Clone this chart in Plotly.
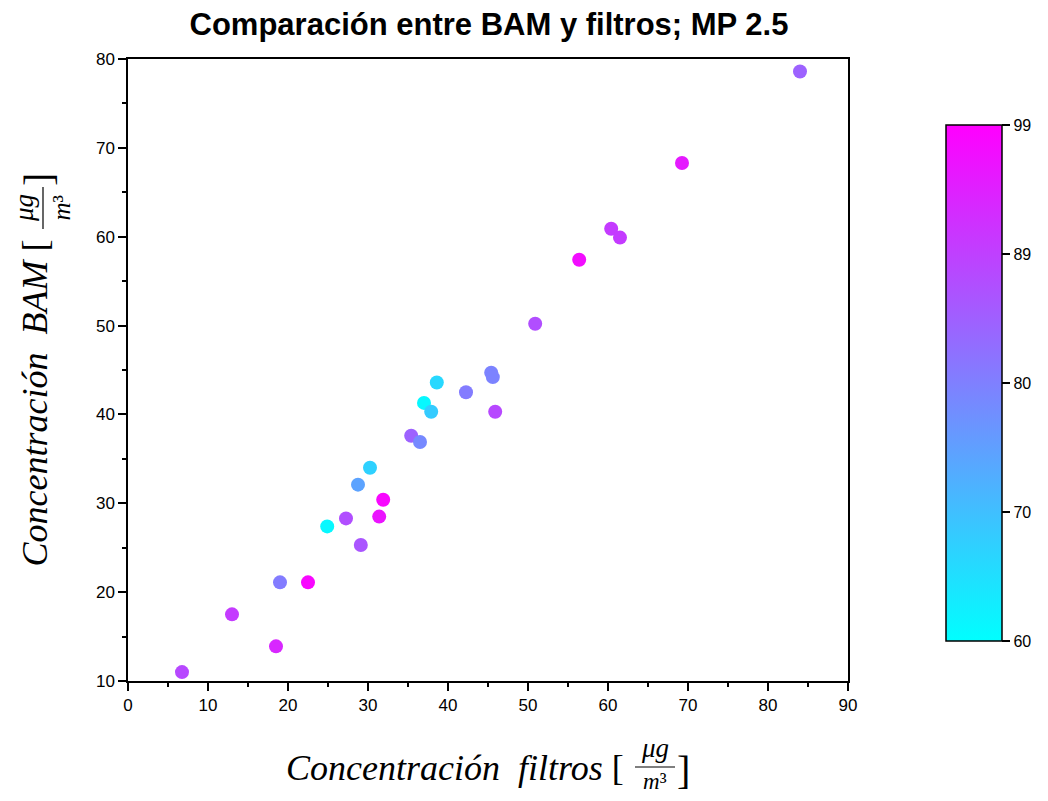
import plotly.graph_objects as go

# Data
filtros = [6.75, 13.0, 18.5, 19.0, 22.5, 24.9, 27.25, 29.1, 28.75, 30.25, 31.4, 31.9,
           35.4, 36.5, 37.0, 37.9, 38.6, 42.25, 45.4, 45.6, 45.9, 50.9, 56.4, 60.4,
           61.5, 69.25, 84.0]
bam = [11.0, 17.5, 13.9, 21.1, 21.1, 27.4, 28.3, 25.3, 32.1, 34.0, 28.5, 30.4,
       37.6, 36.9, 41.3, 40.3, 43.6, 42.5, 44.7, 44.2, 40.3, 50.2, 57.4, 60.9,
       59.9, 68.3, 78.6]
humedad = [88, 90, 93, 80, 98, 61, 87, 86, 74, 67, 96, 98,
           84, 78, 61, 68, 66, 80, 79, 79, 88, 87, 97, 90,
           90, 95, 84]

x_ticks = [0, 10, 20, 30, 40, 50, 60, 70, 80, 90]
y_ticks = [10, 20, 30, 40, 50, 60, 70, 80]
cb_tickvals = [60, 69.75, 79.5, 89.25, 99]
cb_ticktext = ["60", "70", "80", "89", "99"]

OFF = 8  # page body margin
W, H = 1048 - 2 * OFF, 801 - 2 * OFF
# plot area in screen pixels: x 128..848, y 59..681
SX0, SX1, SY0, SY1 = 128, 848, 59, 681
L, T = SX0 - OFF, SY0 - OFF
R = W - (SX1 - OFF)
B = H - (SY1 - OFF)
PW, PH = SX1 - SX0, SY1 - SY0


def px(xs):
    return (xs - SX0) / PW


def py(ys):
    return (SY1 - ys) / PH


fig = go.Figure()
fig.add_trace(go.Scatter(
    x=filtros, y=bam, mode="markers",
    marker=dict(
        size=14, color=humedad, cmin=60, cmax=99,
        colorscale=[[0, "rgb(0,255,255)"], [1, "rgb(255,0,255)"]],
        line=dict(width=0),
        colorbar=dict(
            x=px(946), xanchor="left", xpad=0, ypad=0,
            y=py(383), yanchor="middle",
            thickness=56, thicknessmode="pixels",
            len=516, lenmode="pixels",
            outlinewidth=1.5, outlinecolor="black",
            tickvals=cb_tickvals, ticktext=cb_ticktext,
            ticks="outside", ticklen=8, tickcolor="black", tickwidth=1.5,
            tickfont=dict(family="Liberation Sans", size=16, color="black"),
        ),
    ),
    showlegend=False,
    hoverinfo="x+y",
))

axis_common = dict(
    showline=True, linecolor="black", linewidth=1.5, mirror=True,
    ticks="outside", ticklen=8, tickwidth=1.5, tickcolor="black",
    showgrid=False, zeroline=False,
    tickfont=dict(family="Liberation Sans", size=17, color="black"),
)

fig.update_xaxes(range=[0, 90], tickvals=x_ticks,
                 minor=dict(dtick=5, tick0=0, ticks="outside", ticklen=4, tickcolor="black"),
                 **axis_common)
fig.update_yaxes(range=[10, 80], tickvals=y_ticks,
                 minor=dict(dtick=5, tick0=0, ticks="outside", ticklen=4, tickcolor="black"),
                 **axis_common)

serif = "Liberation Serif"
ann = []
# x-axis title
ann.append(dict(text="<i>Concentración  filtros</i> [", x=px(626), y=py(768),
                xanchor="right", yanchor="middle", font=dict(family=serif, size=36)))
ann.append(dict(text="<i>μg</i>", x=px(655), y=py(765), xanchor="center", yanchor="bottom",
                font=dict(family=serif, size=27)))
ann.append(dict(text="<i>m</i>³", x=px(655), y=py(767), xanchor="center", yanchor="top",
                font=dict(family=serif, size=23)))
ann.append(dict(text="]", x=px(683), y=py(770), xanchor="center", yanchor="middle",
                font=dict(family=serif, size=40)))
# y-axis title
ann.append(dict(text="<i>Concentración  BAM</i> [", x=px(34), y=py(238),
                xanchor="center", yanchor="top", textangle=-90, font=dict(family=serif, size=36)))
ann.append(dict(text="<i>μg</i>", x=px(41), y=py(208), xanchor="right", yanchor="middle",
                textangle=-90, font=dict(family=serif, size=27)))
ann.append(dict(text="<i>m</i>³", x=px(45), y=py(208), xanchor="left", yanchor="middle",
                textangle=-90, font=dict(family=serif, size=25)))
ann.append(dict(text="]", x=px(38), y=py(180), xanchor="center", yanchor="middle",
                textangle=-90, font=dict(family=serif, size=40)))
for a in ann:
    a.update(xref="paper", yref="paper", showarrow=False, font_color="black")

shapes = [
    dict(type="line", xref="paper", yref="paper", x0=px(635), x1=px(675), y0=py(767), y1=py(767),
         line=dict(color="black", width=1.2)),
    dict(type="line", xref="paper", yref="paper", x0=px(43), x1=px(43), y0=py(187), y1=py(229),
         line=dict(color="black", width=1.2)),
]

fig.update_layout(
    width=W, height=H,
    margin=dict(l=L, r=R, t=T, b=B, autoexpand=False),
    paper_bgcolor="white", plot_bgcolor="white",
    title=dict(text="<b>Comparación entre BAM y filtros; MP 2.5</b>",
               xref="container", x=(489 - OFF) / W, xanchor="center",
               y=1 - (24 - OFF) / H, yanchor="middle",
               font=dict(family="Liberation Sans", size=31, color="black")),
    annotations=ann, shapes=shapes,
)

fig.write_html("out.html")
